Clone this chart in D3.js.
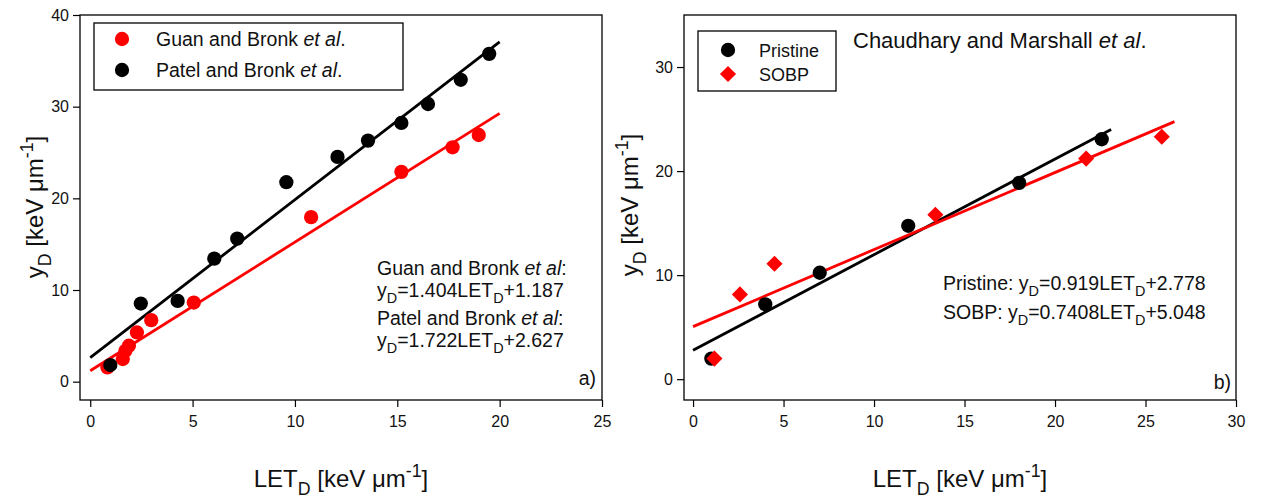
<!DOCTYPE html>
<html>
<head>
<meta charset="utf-8">
<script src="https://cdn.jsdelivr.net/npm/d3@7/dist/d3.min.js"></script>
<style>
  html, body { margin: 0; padding: 0; background: #fff; }
  svg { display: block; font-family: "Liberation Sans", Arial, sans-serif; }
</style>
</head>
<body>
<svg id="chart" width="1261" height="498"></svg>
<script>
// ---- Panel a) Bronk group data: LET_D vs y_D (keV/um) ----
const guanLET = [0.84, 1.59, 1.72, 1.89, 2.28, 2.98, 5.06, 10.79, 15.2, 17.7, 18.98];
const guanYD  = [1.56, 2.47, 3.37, 3.92, 5.37, 6.71, 8.63, 17.95, 22.89, 25.57, 26.91];
const patelLET = [0.98, 2.47, 4.27, 6.06, 7.18, 9.58, 12.08, 13.57, 15.2, 16.5, 18.1, 19.49];
const patelYD  = [1.81, 8.52, 8.81, 13.42, 15.6, 21.76, 24.52, 26.3, 28.22, 30.29, 32.93, 35.76];

// ---- Panel b) Chaudhary and Marshall data ----
const pristineLET = [1.01, 3.99, 7.0, 11.89, 18.02, 22.58];
const pristineYD  = [1.98, 7.2, 10.23, 14.74, 18.87, 23.06];
const sobpLET = [1.18, 2.59, 4.5, 13.39, 21.72, 25.9];
const sobpYD  = [1.98, 8.15, 11.1, 15.8, 21.2, 23.3];

// Linear fits: [slope, intercept, LET start, LET end]
const guanFit     = [1.404, 1.187, 0, 20];
const patelFit    = [1.722, 2.627, 0, 20];
const pristineFit = [0.919, 2.778, 0, 23.1];
const sobpFit     = [0.7408, 5.048, 0, 26.6];

// Axis ticks
const xTicksA = [0, 5, 10, 15, 20, 25];
const yTicksA = [0, 10, 20, 30, 40];
const xTicksB = [0, 5, 10, 15, 20, 25, 30];
const yTicksB = [0, 10, 20, 30];

const RED = "#ff0000", BLACK = "#000000", TXT = "#111111";
const svg = d3.select("#chart");
svg.append("rect").attr("width", 1261).attr("height", 498).attr("fill", "#fff");

// Square diamond (rotated square), as opposed to d3's tall diamond
const squareDiamond = {
  draw(ctx, size) {
    const r = Math.sqrt(size / 2);
    ctx.moveTo(0, -r); ctx.lineTo(r, 0); ctx.lineTo(0, r); ctx.lineTo(-r, 0); ctx.closePath();
  }
};

// Text with italic / subscript / superscript runs
function rich(parent, x, y, parts, size, anchor) {
  const t = parent.append("text")
    .attr("x", x).attr("y", y)
    .attr("font-size", size)
    .attr("fill", TXT)
    .attr("text-anchor", anchor || "start");
  let off = 0;
  parts.forEach(p => {
    const [s, kind] = typeof p === "string" ? [p, "n"] : p;
    const target = kind === "sub" ? size * 0.32 : kind === "sup" ? -size * 0.42 : 0;
    const ts = t.append("tspan").text(s).attr("dy", target - off);
    off = target;
    if (kind === "sub" || kind === "sup") ts.attr("font-size", size * 0.74);
    if (kind === "i") ts.attr("font-style", "italic");
  });
  return t;
}

const letTitle = ["LET", ["D", "sub"], " [keV \u03bcm", ["-1", "sup"], "]"];
const ydTitle  = ["y", ["D", "sub"], " [keV \u03bcm", ["-1", "sup"], "]"];

function panel(cfg) {
  const x = d3.scaleLinear().domain(cfg.xDomain).range([cfg.left, cfg.right]);
  const y = d3.scaleLinear().domain(cfg.yDomain).range([cfg.bottom, cfg.top]);
  const g = svg.append("g");

  // axes
  const xa = g.append("g").attr("transform", `translate(0,${cfg.bottom})`)
    .call(d3.axisBottom(x).tickValues(cfg.xTicks).tickSizeInner(7).tickSizeOuter(0).tickPadding(9));
  const ya = g.append("g").attr("transform", `translate(${cfg.left},0)`)
    .call(d3.axisLeft(y).tickValues(cfg.yTicks).tickSizeInner(7).tickSizeOuter(0).tickPadding(4));
  [xa, ya].forEach(a => {
    a.select(".domain").remove();
    a.selectAll(".tick line").attr("stroke", BLACK).attr("stroke-width", 1.2);
    a.selectAll(".tick text").attr("font-size", 16).attr("fill", TXT)
      .attr("font-family", "Liberation Sans, Arial, sans-serif");
  });

  // frame
  g.append("rect")
    .attr("x", cfg.left).attr("y", cfg.top)
    .attr("width", cfg.right - cfg.left).attr("height", cfg.bottom - cfg.top)
    .attr("fill", "none").attr("stroke", BLACK).attr("stroke-width", 1.3);

  // fit lines
  cfg.fits.forEach(f => {
    const [m, b, x0, x1] = f.fit;
    g.append("line")
      .attr("x1", x(x0)).attr("y1", y(m * x0 + b))
      .attr("x2", x(x1)).attr("y2", y(m * x1 + b))
      .attr("stroke", f.color).attr("stroke-width", 2.8);
  });

  // points
  cfg.series.forEach(s => {
    const pts = s.xs.map((v, i) => [v, s.ys[i]]);
    const sym = d3.symbol().type(s.shape === "diamond" ? squareDiamond : d3.symbolCircle).size(s.size);
    g.selectAll(null).data(pts).join("path")
      .attr("d", sym)
      .attr("transform", d => `translate(${x(d[0])},${y(d[1])})`)
      .attr("fill", s.color);
  });

  // axis titles
  rich(g, (cfg.left + cfg.right) / 2, 487, letTitle, 24, "middle");
  const yt = rich(g, 0, 0, ydTitle, 24, "middle");
  yt.attr("transform", `translate(${cfg.yTitleX},${cfg.yTitleY}) rotate(-90)`);
  return { g, x, y };
}

// ---- Panel a) ----
const A = panel({
  left: 80, right: 602, top: 15, bottom: 400,
  xDomain: [-0.5, 25], yDomain: [-2, 40],
  xTicks: xTicksA, yTicks: yTicksA,
  yTitleX: 43, yTitleY: 207,
  fits: [{ fit: guanFit, color: RED }, { fit: patelFit, color: BLACK }],
  series: [
    { xs: guanLET, ys: guanYD, color: RED, shape: "circle", size: 160 },
    { xs: patelLET, ys: patelYD, color: BLACK, shape: "circle", size: 160 }
  ]
});

// legend a)
A.g.append("rect").attr("x", 94).attr("y", 23).attr("width", 309).attr("height", 67)
  .attr("fill", "#fff").attr("stroke", BLACK).attr("stroke-width", 1.3);
A.g.append("path").attr("d", d3.symbol().type(d3.symbolCircle).size(160))
  .attr("transform", "translate(122,39)").attr("fill", RED);
A.g.append("path").attr("d", d3.symbol().type(d3.symbolCircle).size(160))
  .attr("transform", "translate(122,70)").attr("fill", BLACK);
rich(A.g, 156, 46, ["Guan and Bronk ", ["et al", "i"], "."], 19.5);
rich(A.g, 156, 77, ["Patel and Bronk ", ["et al", "i"], "."], 19.5);

// fit equations a)
rich(A.g, 377, 275, ["Guan and Bronk ", ["et al", "i"], ":"], 19.5);
rich(A.g, 377, 297, ["y", ["D", "sub"], "=1.404LET", ["D", "sub"], "+1.187"], 19.5);
rich(A.g, 377, 325, ["Patel and Bronk ", ["et al", "i"], ":"], 19.5);
rich(A.g, 377, 347, ["y", ["D", "sub"], "=1.722LET", ["D", "sub"], "+2.627"], 19.5);
rich(A.g, 596, 385, ["a)"], 19.5, "end");

// ---- Panel b) ----
const B = panel({
  left: 684, right: 1236, top: 15, bottom: 400,
  xDomain: [-0.5, 30], yDomain: [-2, 35],
  xTicks: xTicksB, yTicks: yTicksB,
  yTitleX: 638, yTitleY: 205,
  fits: [{ fit: pristineFit, color: BLACK }, { fit: sobpFit, color: RED }],
  series: [
    { xs: pristineLET, ys: pristineYD, color: BLACK, shape: "circle", size: 160 },
    { xs: sobpLET, ys: sobpYD, color: RED, shape: "diamond", size: 130 }
  ]
});

// legend b)
B.g.append("rect").attr("x", 698).attr("y", 31).attr("width", 138).attr("height", 60)
  .attr("fill", "#fff").attr("stroke", BLACK).attr("stroke-width", 1.3);
B.g.append("path").attr("d", d3.symbol().type(d3.symbolCircle).size(160))
  .attr("transform", "translate(728,50)").attr("fill", BLACK);
B.g.append("path").attr("d", d3.symbol().type(squareDiamond).size(130))
  .attr("transform", "translate(728,74)").attr("fill", RED);
rich(B.g, 759, 57, ["Pristine"], 18);
rich(B.g, 759, 81, ["SOBP"], 18);

rich(B.g, 853, 48, ["Chaudhary and Marshall ", ["et al", "i"], "."], 22);
rich(B.g, 943, 290, ["Pristine: y", ["D", "sub"], "=0.919LET", ["D", "sub"], "+2.778"], 19.5);
rich(B.g, 943, 319, ["SOBP: y", ["D", "sub"], "=0.7408LET", ["D", "sub"], "+5.048"], 19.5);
rich(B.g, 1231, 389, ["b)"], 19.5, "end");
</script>
</body>
</html>
